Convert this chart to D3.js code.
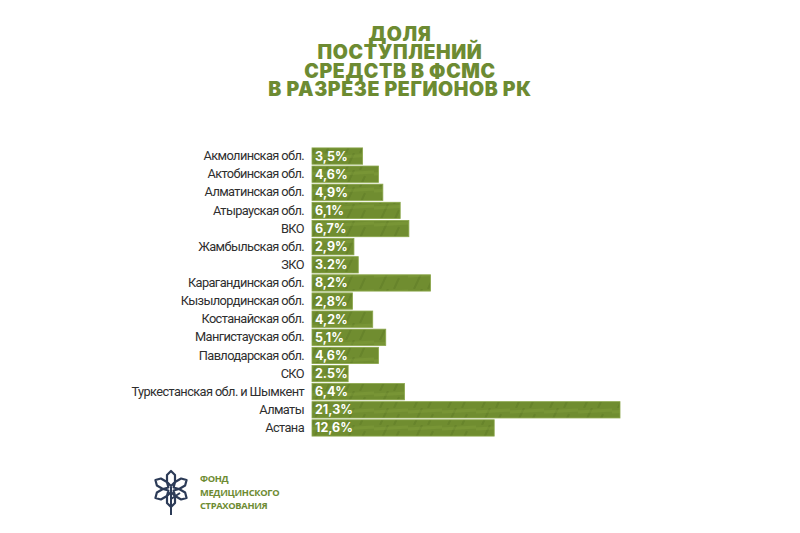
<!DOCTYPE html>
<html><head><meta charset="utf-8">
<script src="https://cdn.jsdelivr.net/npm/d3@7"></script>
<style>body{margin:0;background:#fff}svg{display:block}</style>
</head><body>
<script>
const regions = ["Акмолинская обл.","Актобинская обл.","Алматинская обл.","Атырауская обл.","ВКО","Жамбыльская обл.","ЗКО","Карагандинская обл.","Кызылординская обл.","Костанайская обл.","Мангистауская обл.","Павлодарская обл.","СКО","Туркестанская обл. и Шымкент","Алматы","Астана"];
const shares = [3.5,4.6,4.9,6.1,6.7,2.9,3.2,8.2,2.8,4.2,5.1,4.6,2.5,6.4,21.3,12.6];
const valueLabels = ["3,5%","4,6%","4,9%","6,1%","6,7%","2,9%","3.2%","8,2%","2,8%","4,2%","5,1%","4,6%","2.5%","6,4%","21,3%","12,6%"];
const titleLines = ["ДОЛЯ","ПОСТУПЛЕНИЙ","СРЕДСТВ В ФСМС","В РАЗРЕЗЕ РЕГИОНОВ РК"];
const logoLines = ["ФОНД","МЕДИЦИНСКОГО","СТРАХОВАНИЯ"];

const W=800,H=533;
const svg=d3.select("body").append("svg").attr("width",W).attr("height",H);
const defs=svg.append("defs");
const pat=defs.append("pattern").attr("id","tex").attr("patternUnits","userSpaceOnUse").attr("width",34).attr("height",17);
pat.append("rect").attr("width",34).attr("height",17).attr("fill","#708d30");
pat.append("path").attr("d","M6 17 L14 0 M20 17 L25 6").attr("stroke","#5f7b26").attr("stroke-width",2.2).attr("opacity",0.55);
pat.append("path").attr("d","M0 4 L34 2").attr("stroke","#86a33f").attr("stroke-width",3).attr("opacity",0.35);

const title=svg.append("text")
  .attr("text-anchor","middle")
  .attr("font-family","Inter, 'Open Sans', sans-serif").attr("font-weight",900)
  .attr("font-size",19.5).attr("letter-spacing",0.6).attr("fill","#6d8b32");
title.selectAll("tspan").data(titleLines).join("tspan")
  .attr("x",400).attr("y",(d,i)=>40.5+i*18.6).text(d=>d);

const x=d3.scaleLinear().domain([0,21.3]).range([312,620]);
const y=d3.scaleBand().domain(regions).range([147,437]).paddingInner(0.1).paddingOuter(0.05);

const g=svg.append("g");
g.selectAll("rect.bar").data(regions).join("rect").attr("class","bar")
  .attr("x",x(0)).attr("y",d=>y(d))
  .attr("width",(d,i)=>x(shares[i])-x(0)).attr("height",y.bandwidth())
  .attr("fill","url(#tex)").attr("stroke","#8aa64a").attr("stroke-width",0.8);

g.selectAll("text.val").data(regions).join("text").attr("class","val")
  .attr("x",x(0)+3).attr("y",d=>y(d)+y.bandwidth()/2+4.5)
  .attr("font-family","Inter, 'Open Sans', sans-serif").attr("font-weight",700)
  .attr("font-size",12.5).attr("fill","#fff")
  .text((d,i)=>valueLabels[i]);

const yAxis=d3.axisLeft(y).tickSize(0).tickPadding(8);
const ag=svg.append("g").attr("transform",`translate(${x(0)},0)`).call(yAxis);
ag.select(".domain").remove();
ag.selectAll("text").attr("font-family","Roboto, 'Open Sans', sans-serif").attr("font-size",12.8).attr("letter-spacing",-0.6).attr("fill","#2e2e2e");

// logo
const lg=svg.append("g").attr("transform","translate(171,489)");
const petal="M0 -3 L4 -7 L4 -14 L0 -18 L-4 -14 L-4 -7 Z";
[0,60,120,180,240,300].forEach(a=>{
  lg.append("path").attr("d",petal).attr("transform",`rotate(${a})`).attr("fill","none").attr("stroke","#2c3b57").attr("stroke-width",2.2).attr("stroke-linejoin","round");
});
lg.append("line").attr("x1",0).attr("y1",-2).attr("x2",0).attr("y2",26).attr("stroke","#2c3b57").attr("stroke-width",2);
lg.append("line").attr("x1",0).attr("y1",10).attr("x2",9).attr("y2",4).attr("stroke","#2c3b57").attr("stroke-width",2);
svg.append("g").selectAll("text").data(logoLines).join("text")
  .attr("x",200).attr("y",(d,i)=>482+i*13.5)
  .attr("font-family","'Open Sans', sans-serif").attr("font-weight",700)
  .attr("font-size",9.3).attr("letter-spacing",-0.3).attr("fill","#6d8b32").text(d=>d);
</script>
</body></html>
